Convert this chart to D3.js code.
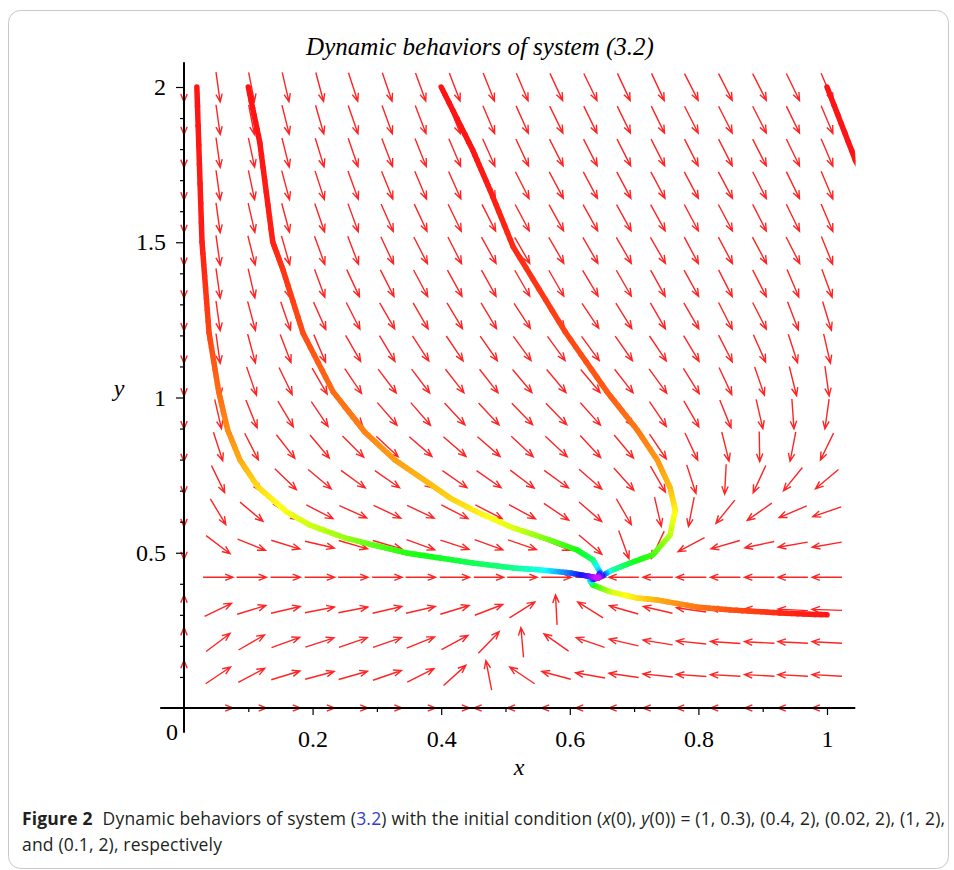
<!DOCTYPE html>
<html>
<head>
<meta charset="utf-8">
<script src="https://cdn.jsdelivr.net/npm/d3@7"></script>
<style>
  body { margin: 0; background: #fff; }
  svg { display: block; }
</style>
</head>
<body>
<svg id="chart" width="954" height="870"></svg>
<script>
// direction field grid (20 x 20)
var fieldX = [0, 0.053, 0.105, 0.158, 0.211, 0.263, 0.316, 0.368, 0.421, 0.474,
              0.526, 0.579, 0.632, 0.684, 0.737, 0.789, 0.842, 0.895, 0.947, 1.0];
var fieldY = [2.0, 1.895, 1.789, 1.684, 1.579, 1.474, 1.368, 1.263, 1.158, 1.053,
              0.947, 0.842, 0.737, 0.632, 0.526, 0.421, 0.316, 0.211, 0.105, 0];

// arrow direction in degrees on screen (0 = right, 90 = up), one row per fieldY
// null = no arrow drawn
var fieldAngle = [
  [-90,-82,-79,-77,-75,-72,-71,-70,-69,-68,-67,-65,-64,-65,-65,-63,-63,-63,-64,-67],
  [-90,-82,-79,-76,-74,-71,-70,-69,-68,-67,-66,-64,-64,-64,-64,-63,-63,-63,-64,-67],
  [-90,-82,-78,-76,-73,-71,-69,-68,-67,-66,-65,-63,-63,-63,-63,-63,-63,-63,-64,-67],
  [-90,-82,-78,-75,-72,-70,-68,-67,-66,-64,-63,-62,-62,-62,-62,-62,-62,-63,-64,-67],
  [-90,-82,-77,-75,-71,-70,-66,-65,-64,-63,-62,-61,-61,-61,-61,-62,-62,-63,-64,-67],
  [-90,-82,-76,-74,-70,-69,-65,-63,-63,-61,-60,-60,-60,-60,-60,-62,-62,-62,-63,-68],
  [-90,-82,-77,-73,-70,-65,-63,-62,-61,-61,-60,-60,-59,-60,-61,-61,-63,-63,-67,-70],
  [-90,-82,-75,-71,-66,-63,-60,-60,-59,-59,-57,-57,-56,-58,-60,-60,-63,-63,-69,-73],
  [-90,-82,-75,-69,-67,-60,-59,-57,-56,-55,-54,-54,-54,-55,-56,-59,-63,-66,-72,-77],
  [-90,-80,-71,-64,-60,-56,-53,-53,-52,-52,-50,-50,-50,-52,-54,-58,-65,-71,-76,-82],
  [-90,-77,-68,-59,-56,-51,-49,-49,-47,-47,-46,-46,-48,-52,-56,-60,-68,-77,-86,-98],
  [-90,-72,-63,-52,-50,-45,-43,-41,-41,-41,-43,-43,-47,-50,-56,-65,-76,-89,-101,-116],
  [-90,-64,-52,-44,-40,-36,-35,-36,-35,-35,-37,-36,-41,-48,-60,-72,-93,-115,-129,-140],
  [-90,-59,-40,-32,-27,-24,-25,-25,-27,-27,-28,-34,-41,-60,-77,-101,-129,-145,-157,-161],
  [-90,-37,-22,-17,-13,-16,-16,-20,-18,-20,-19,-22,-40,-70,-115,-152,-164,-168,-170,-170],
  [null,0,0,0,0,0,0,0,0,0,0,0,0,180,180,180,180,180,180,180],
  [90,26,17,13,11,11,13,13,17,21,32,93,148,164,167,172,175,176,177,178],
  [90,37,30,20,18,19,19,22,28,46,95,145,161,167,171,174,176,177,177,177],
  [90,34,28,17,15,16,19,27,42,101,146,165,170,172,174,176,177,177,177,177],
  [null,0,0,0,0,0,0,0,0,180,180,180,180,180,180,180,180,180,180,180]
];

// trajectories: [x, y, hue of the drawn colour]
var trajA = [[0.02,2.0,0],[0.028,1.501,2],[0.039,1.208,12],[0.054,1.018,22],[0.068,0.895,30],
             [0.087,0.799,38],[0.115,0.712,50],[0.160,0.631,62],[0.196,0.589,72],[0.250,0.548,85],
             [0.294,0.525,100],[0.347,0.499,115],[0.398,0.483,125],[0.449,0.467,135],[0.512,0.451,150],
             [0.558,0.444,175],[0.600,0.435,215],[0.627,0.425,250],[0.644,0.419,290]];
var trajB = [[0.1,2.0,0],[0.118,1.820,0],[0.138,1.501,3],[0.154,1.411,8],[0.185,1.208,14],
             [0.232,1.018,22],[0.281,0.889,28],[0.328,0.799,35],[0.378,0.728,42],[0.414,0.676,48],
             [0.456,0.631,55],[0.512,0.580,68],[0.569,0.541,95],[0.611,0.509,118],[0.636,0.477,140],
             [0.647,0.438,195],[0.644,0.419,290]];
var trajC = [[0.4,2.0,0],[0.449,1.797,0],[0.476,1.668,2],[0.512,1.485,5],[0.593,1.211,12],
             [0.658,1.018,18],[0.705,0.895,25],[0.736,0.799,33],[0.756,0.709,42],[0.764,0.638,55],
             [0.756,0.557,75],[0.729,0.493,105],[0.694,0.467,125],[0.663,0.441,160],[0.652,0.428,220],
             [0.644,0.419,290]];
var trajD = [[1.0,2.0,0],[1.044,1.765,0],[1.06,1.70,0]];
var trajE = [[1.0,0.3,0],[0.927,0.306,5],[0.849,0.316,15],[0.798,0.325,24],[0.736,0.348,38],
             [0.705,0.354,50],[0.663,0.374,70],[0.636,0.396,110],[0.631,0.412,170],[0.644,0.419,290]];
var trajectories = [trajD, trajE, trajC, trajB, trajA];

var xMajor = [0.2, 0.4, 0.6, 0.8, 1];
var xMinor = [0.1, 0.3, 0.5, 0.7, 0.9];
var yMajor = [0.5, 1, 1.5, 2];
var yMinor = [0.1, 0.2, 0.3, 0.4, 0.6, 0.7, 0.8, 0.9, 1.1, 1.2, 1.3, 1.4, 1.6, 1.7, 1.8, 1.9];

var titleText = "Dynamic behaviors of system (3.2)";

var svg = d3.select("#chart");
var serif = "'Liberation Serif', 'Times New Roman', serif";
var sans = "'Open Sans', 'Noto Sans', sans-serif";

// figure frame
svg.append("rect")
    .attr("x", 8.5).attr("y", 10.5)
    .attr("width", 940).attr("height", 858)
    .attr("rx", 12)
    .attr("fill", "none")
    .attr("stroke", "#c8c8c8")
    .attr("stroke-width", 1);

var x = d3.scaleLinear().domain([0, 1]).range([184, 827]);
var y = d3.scaleLinear().domain([0, 2]).range([708, 87]);

var xLo = -0.037, xHi = 1.044, yLo = -0.08, yHi = 2.08;

svg.append("clipPath").attr("id", "plotclip")
  .append("rect")
    .attr("x", x(xLo)).attr("y", y(yHi))
    .attr("width", x(xHi) - x(xLo)).attr("height", y(yLo) - y(yHi));

// direction field
var arrowLen = 30, headLen = 8.5, headAng = 22 * Math.PI / 180;
var field = svg.append("g").attr("class", "field");
var cells = [];
fieldY.forEach(function(fy, i) {
  fieldX.forEach(function(fx, j) {
    var a = fieldAngle[i][j];
    if (a !== null) cells.push({ x: fx, y: fy, a: a });
  });
});

field.selectAll("path")
  .data(cells)
  .enter().append("path")
    .attr("d", function(d) {
      var r = d.a * Math.PI / 180;
      var ux = Math.cos(r), uy = -Math.sin(r);
      var cx = x(d.x), cy = y(d.y);
      var tx = cx + ux * arrowLen / 2, ty = cy + uy * arrowLen / 2;
      var sx = cx - ux * arrowLen / 2, sy = cy - uy * arrowLen / 2;
      var back = Math.atan2(-uy, -ux);
      var b1x = tx + Math.cos(back + headAng) * headLen, b1y = ty + Math.sin(back + headAng) * headLen;
      var b2x = tx + Math.cos(back - headAng) * headLen, b2y = ty + Math.sin(back - headAng) * headLen;
      return "M" + sx + "," + sy + "L" + tx + "," + ty +
             "M" + b1x + "," + b1y + "L" + tx + "," + ty + "L" + b2x + "," + b2y;
    })
    .attr("fill", "none")
    .attr("stroke", "#ff2424")
    .attr("stroke-width", 1.4);

// trajectories, coloured along their run
var trajG = svg.append("g").attr("clip-path", "url(#plotclip)");
trajectories.forEach(function(pts) {
  var pieces = [];
  for (var i = 0; i < pts.length - 1; i++) {
    var p = pts[i], q = pts[i + 1];
    var n = 8;
    for (var k = 0; k < n; k++) {
      var t0 = k / n, t1 = (k + 1) / n;
      pieces.push({
        x1: p[0] + (q[0] - p[0]) * t0, y1: p[1] + (q[1] - p[1]) * t0,
        x2: p[0] + (q[0] - p[0]) * t1, y2: p[1] + (q[1] - p[1]) * t1,
        h: p[2] + (q[2] - p[2]) * (t0 + t1) / 2
      });
    }
  }
  trajG.append("g").selectAll("line")
    .data(pieces)
    .enter().append("line")
      .attr("x1", function(d) { return x(d.x1); })
      .attr("y1", function(d) { return y(d.y1); })
      .attr("x2", function(d) { return x(d.x2); })
      .attr("y2", function(d) { return y(d.y2); })
      .attr("stroke", function(d) { return d3.hsl(d.h, 1, 0.54).toString(); })
      .attr("stroke-width", 5.5)
      .attr("stroke-linecap", "round");
});

// axes
var axes = svg.append("g").attr("class", "axes");

axes.append("g")
    .attr("transform", "translate(0," + y(0) + ")")
    .call(d3.axisBottom(x).tickValues(xMajor).tickSize(7).tickPadding(15)
      .tickFormat(function(d) { return d === 1 ? "1" : d3.format(".1f")(d); }));
axes.append("g")
    .attr("transform", "translate(0," + y(0) + ")")
    .call(d3.axisBottom(x).tickValues(xMinor).tickSize(4).tickFormat(""));

axes.append("g")
    .attr("transform", "translate(" + x(0) + ",0)")
    .call(d3.axisLeft(y).tickValues(yMajor).tickSize(8).tickPadding(10)
      .tickFormat(function(d) { return d % 1 === 0 ? String(d) : d3.format(".1f")(d); }));
axes.append("g")
    .attr("transform", "translate(" + x(0) + ",0)")
    .call(d3.axisLeft(y).tickValues(yMinor).tickSize(4).tickFormat(""));

axes.selectAll(".domain").remove();
axes.selectAll(".tick line").attr("stroke", "#000").attr("stroke-width", 1.2);
axes.selectAll(".tick text")
    .style("font-family", serif)
    .style("font-size", "24px")
    .attr("fill", "#000");

axes.append("line")
    .attr("x1", x(xLo)).attr("x2", x(xHi))
    .attr("y1", y(0)).attr("y2", y(0))
    .attr("stroke", "#000").attr("stroke-width", 2);
axes.append("line")
    .attr("x1", x(0)).attr("x2", x(0))
    .attr("y1", y(yHi)).attr("y2", y(yLo))
    .attr("stroke", "#000").attr("stroke-width", 2);

axes.append("text")
    .attr("x", x(0) - 12).attr("y", y(0) + 32)
    .attr("text-anchor", "middle")
    .style("font-family", serif).style("font-size", "24px")
    .text("0");

axes.append("text")
    .attr("x", 519).attr("y", 775)
    .attr("text-anchor", "middle")
    .style("font-family", serif).style("font-size", "24px").style("font-style", "italic")
    .text("x");
axes.append("text")
    .attr("x", 119).attr("y", 396)
    .attr("text-anchor", "middle")
    .style("font-family", serif).style("font-size", "24px").style("font-style", "italic")
    .text("y");

svg.append("text")
    .attr("x", 480).attr("y", 55)
    .attr("text-anchor", "middle")
    .style("font-family", serif).style("font-size", "25px").style("font-style", "italic")
    .text(titleText);

// caption
var cap1 = svg.append("text")
    .attr("x", 22).attr("y", 825)
    .attr("textLength", 923).attr("lengthAdjust", "spacing")
    .style("font-family", sans).style("font-size", "17.5px").attr("fill", "#231f20");
cap1.append("tspan").style("font-weight", "bold").text("Figure 2");
cap1.append("tspan").attr("dx", 10).text("Dynamic behaviors of system (");
cap1.append("tspan").attr("fill", "#2f3fd0").text("3.2");
cap1.append("tspan").text(") with the initial condition (");
cap1.append("tspan").style("font-style", "italic").text("x");
cap1.append("tspan").text("(0), ");
cap1.append("tspan").style("font-style", "italic").text("y");
cap1.append("tspan").text("(0)) = (1, 0.3), (0.4, 2), (0.02, 2), (1, 2),");

svg.append("text")
    .attr("x", 22).attr("y", 851)
    .attr("textLength", 200).attr("lengthAdjust", "spacing")
    .style("font-family", sans).style("font-size", "17.5px").attr("fill", "#231f20")
    .text("and (0.1, 2), respectively");
</script>
</body>
</html>
